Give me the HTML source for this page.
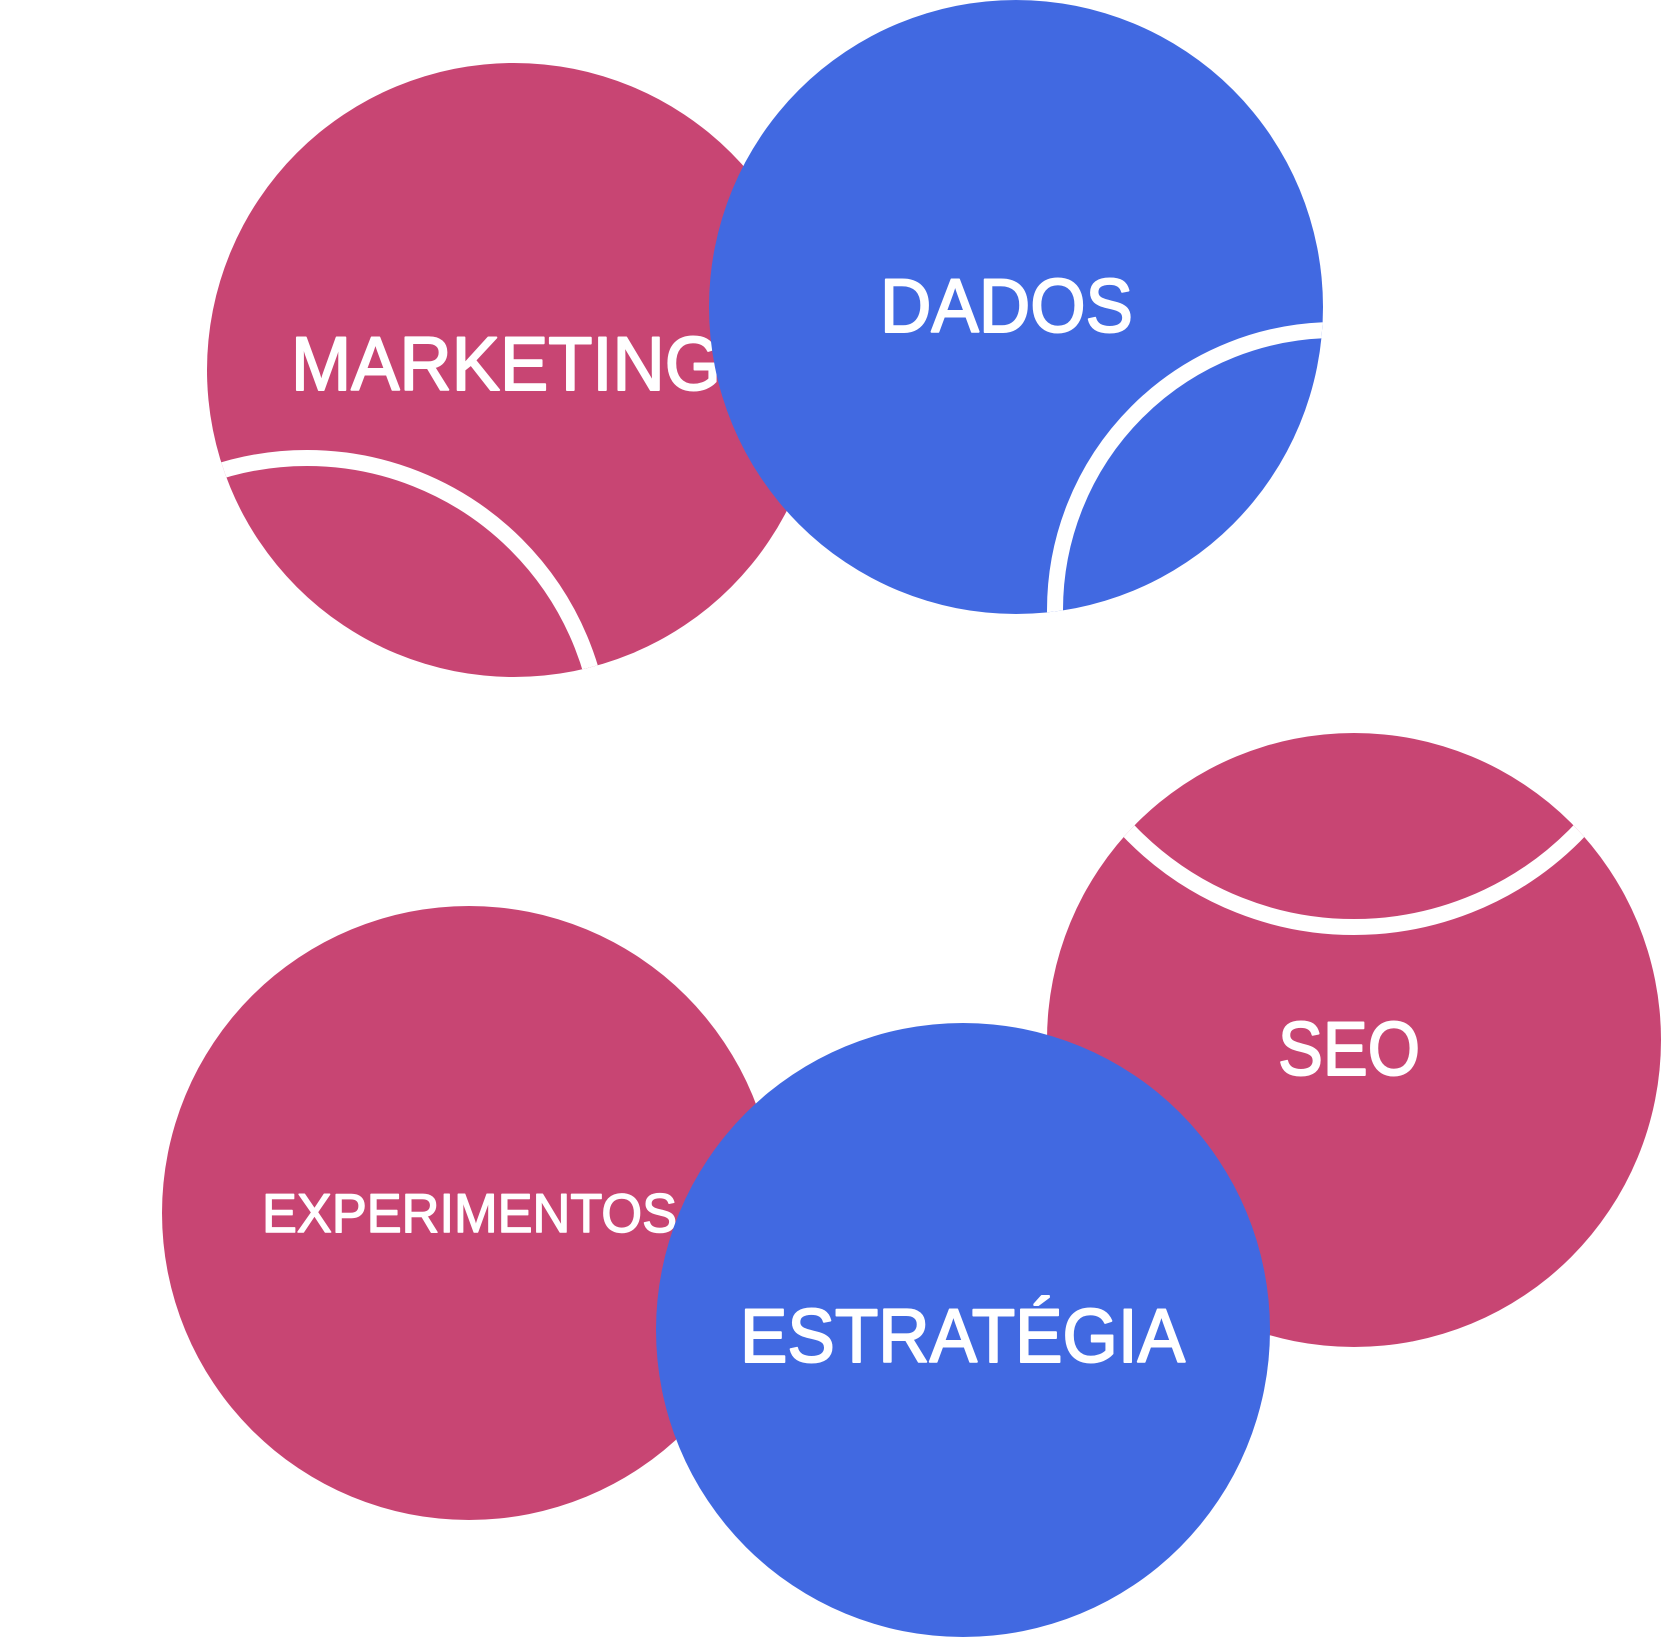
<!DOCTYPE html>
<html><head><meta charset="utf-8"><style>html,body{margin:0;padding:0;background:#fff}svg{display:block}</style></head>
<body>
<svg width="1661" height="1637" viewBox="0 0 1661 1637" xmlns="http://www.w3.org/2000/svg" font-family="'Liberation Sans', sans-serif" font-weight="normal" fill="#fff" stroke-linejoin="round">
<defs>
<clipPath id="cm"><circle cx="514" cy="370" r="307"/></clipPath>
<clipPath id="cd"><circle cx="1016" cy="307" r="307"/></clipPath>
<clipPath id="cs"><circle cx="1354" cy="1040" r="307"/></clipPath>
</defs>
<circle cx="514" cy="370" r="307" fill="#C84573"/>
<circle cx="307" cy="754" r="296" fill="none" stroke="#fff" stroke-width="16" clip-path="url(#cm)"/>
<text x="291" y="390" font-size="76" stroke="#fff" stroke-width="2" textLength="430" lengthAdjust="spacingAndGlyphs">MARKETING</text>
<circle cx="1016" cy="307" r="307" fill="#4169E1"/>
<circle cx="1335" cy="610" r="280" fill="none" stroke="#fff" stroke-width="16" clip-path="url(#cd)"/>
<text x="880" y="332" font-size="76" stroke="#fff" stroke-width="2" textLength="253" lengthAdjust="spacingAndGlyphs">DADOS</text>
<circle cx="1354" cy="1040" r="307" fill="#C84573"/>
<circle cx="1354" cy="615" r="312" fill="none" stroke="#fff" stroke-width="16" clip-path="url(#cs)"/>
<text x="1278" y="1075" font-size="76" stroke="#fff" stroke-width="2" textLength="142" lengthAdjust="spacingAndGlyphs">SEO</text>
<circle cx="469" cy="1213" r="307" fill="#C84573"/>
<text x="262" y="1232" font-size="55" stroke="#fff" stroke-width="1.5" textLength="415" lengthAdjust="spacingAndGlyphs">EXPERIMENTOS</text>
<circle cx="963" cy="1330" r="307" fill="#4169E1"/>
<text x="740" y="1362" font-size="76" stroke="#fff" stroke-width="2" textLength="445" lengthAdjust="spacingAndGlyphs">ESTRATÉGIA</text>
</svg>
</body></html>
